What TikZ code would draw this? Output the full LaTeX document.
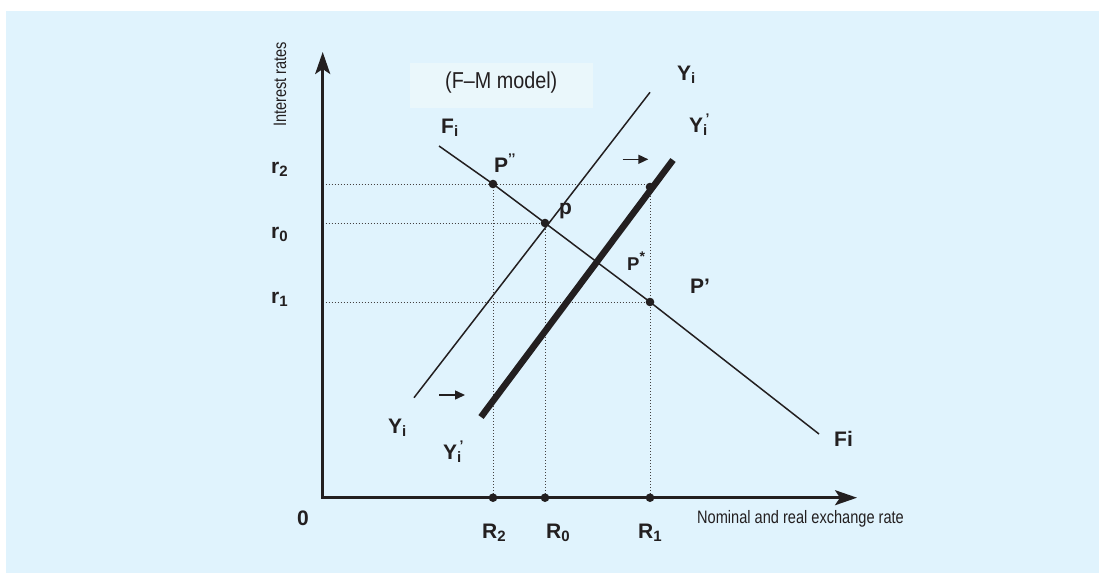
\documentclass[tikz,border=0pt]{standalone}
\usepackage{fontspec}
\setmainfont{Liberation Sans}
\newfontfamily\condfont[FakeStretch=0.81]{Liberation Sans}
\newfontfamily\condfontb[FakeStretch=0.86]{Liberation Sans}
\usetikzlibrary{arrows.meta}
\definecolor{bgblue}{RGB}{224,243,253}
\definecolor{boxblue}{RGB}{234,247,251}
\definecolor{ink}{RGB}{35,31,32}
\newcommand{\mysub}[1]{\raisebox{-3.5pt}{\fontsize{15}{15}\selectfont #1}}
\newcommand{\mysup}[1]{\raisebox{8.5pt}{\fontsize{14}{14}\selectfont #1}}
\tikzset{
  lab/.style={anchor=base west, inner sep=0pt, text=ink, font=\bfseries\fontsize{21}{25}\selectfont},
  smalllab/.style={anchor=base west, inner sep=0pt, text=ink, font=\bfseries\fontsize{18.5}{22}\selectfont},
  axlab/.style={anchor=base west, inner sep=0pt, text=ink, font=\condfont\fontsize{18}{20}\selectfont},
  axis/.style={draw=ink, line width=2.6pt, {Stealth[length=22pt,width=15pt,inset=5pt]}-{Stealth[length=22pt,width=15pt,inset=5pt]}},
  dotline/.style={draw=ink!85, line width=0.9pt, dash pattern=on 1pt off 2pt},
  thinline/.style={draw=ink, line width=1.5pt},
  thickline/.style={draw=ink, line width=6.5pt},
  shiftarrow/.style={draw=ink, line width=1.5pt, -{Triangle[length=10pt,width=9pt]}},
  dot/.style={fill=ink}
}
\begin{document}
\begin{tikzpicture}[x=1pt,y=-1pt]
\useasboundingbox (0,0) rectangle (1099,573);
\fill[bgblue] (6,11) rectangle (1099,573);
\fill[boxblue] (410,63) rectangle (593,108);

% coordinates
\coordinate (O) at (322.7,497.7);
\coordinate (Ytop) at (322.7,52);
\coordinate (Xend) at (857,497.7);
\coordinate (Yr2) at (322.7,184);
\coordinate (Yr0) at (322.7,223);
\coordinate (Yr1) at (322.7,302);
\coordinate (Ppp) at (493,184);
\coordinate (p) at (545,223);
\coordinate (Q2) at (650,184);
\coordinate (Pq) at (650,187);
\coordinate (Pp) at (650,302);
\coordinate (R2) at (493,497.7);
\coordinate (R0) at (545,497.7);
\coordinate (R1) at (650,497.7);
\coordinate (Fs) at (439,146);
\coordinate (Fe) at (819,434);
\coordinate (Ys) at (414,397.7);
\coordinate (Ye) at (650,92.3);
\coordinate (Yps) at (481,417);
\coordinate (Ype) at (673,160);
\coordinate (A1s) at (622.7,159.3);
\coordinate (A1e) at (648.3,159.3);
\coordinate (A2s) at (439.3,395);
\coordinate (A2e) at (465,395);

% dotted guides
\draw[dotline] (Yr2) -- (Q2);
\draw[dotline] (Yr0) -- (p);
\draw[dotline] (Yr1) -- (Pp);
\draw[dotline] (Ppp) -- (R2);
\draw[dotline] (p) -- (R0);
\draw[dotline] (Q2) -- (R1);

% curves
\draw[thinline] (Fs) -- (Ppp) -- (p) -- (Pp) -- (Fe);
\draw[thinline] (Ys) -- (Ye);
\draw[thickline] (Yps) -- (Ype);

% axes
\draw[axis] (Ytop) -- (O) -- (Xend);

% shift arrows
\draw[shiftarrow] (A1s) -- (A1e);
\draw[shiftarrow] (A2s) -- (A2e);

% dots
\foreach \c in {Ppp,p,Pq,Pp,R2,R0,R1} \fill[dot] (\c) circle (4.3);

% labels
\node[lab] (lr2) at (271,173) {r\mysub{2}};
\node[lab] (lr0) at (271,238) {r\mysub{0}};
\node[lab] (lr1) at (271,303) {r\mysub{1}};
\node[lab] (lzero) at (297,525) {0};
\node[lab] (lR2) at (482,538) {R\mysub{2}};
\node[lab] (lR0) at (546,538) {R\mysub{0}};
\node[lab] (lR1) at (638,538) {R\mysub{1}};
\node[lab] (lFi) at (441,133) {F\mysub{i}};
\node[lab] (lFi2) at (834,446) {Fi};
\node[lab] (lPpp) at (494,172) {P\mysup{’’}};
\node[lab] (lp) at (559,214) {p};
\node[lab] (lYi) at (677,80) {Y\mysub{i}};
\node[lab] (lYip) at (689,132) {Y\rlap{\mysub{i}}\mysup{\,’}};
\node[smalllab] (lPs) at (627,270) {P\mysup{*}};
\node[lab] (lPp) at (690,293) {P’};
\node[lab] (lYi2) at (388,433) {Y\mysub{i}};
\node[lab] (lYip2) at (443,459) {Y\rlap{\mysub{i}}\mysup{\,’}};
\node[axlab] (xlab) at (697,523) {Nominal and real exchange rate};
\node[axlab, rotate=90] (ylab) at (286,127) {Interest rates};
\node[anchor=base west, inner sep=0pt, text=ink, font=\condfontb\fontsize{23}{26}\selectfont] (title) at (445,88) {(F–M model)};
\end{tikzpicture}
\end{document}
